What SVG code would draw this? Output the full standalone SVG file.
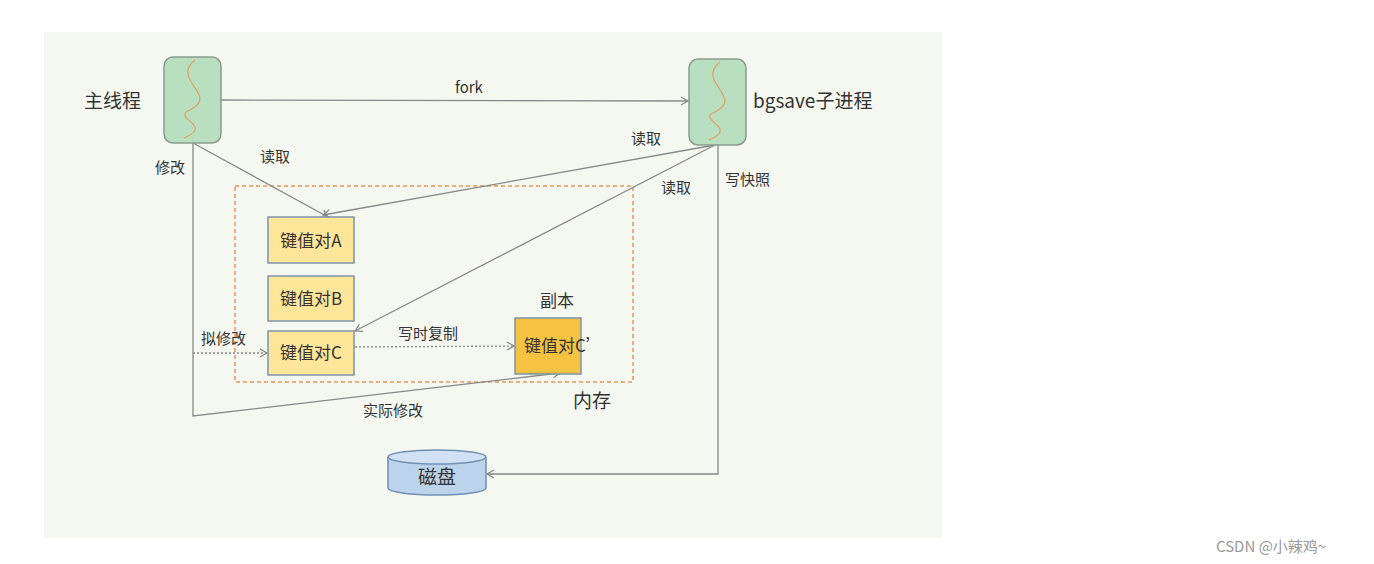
<svg xmlns="http://www.w3.org/2000/svg" width="1374" height="564" viewBox="0 0 1374 564">
<style>
text{font-family:"Noto Sans CJK SC","Liberation Sans",sans-serif;fill:#333}
.l{fill:none;stroke:#888;stroke-width:1.3}
.kv{fill:#fde69a;stroke:#7e92a8;stroke-width:1.5}
.th{fill:#b8dfc0;stroke:#8a9a8e;stroke-width:1.5}
.w{fill:none;stroke:#e0a060;stroke-width:1.2}
</style>
<defs>
<marker id="a" markerWidth="10" markerHeight="10" refX="8" refY="5" orient="auto" markerUnits="userSpaceOnUse"><path d="M1,1 L8,5 L1,9" fill="none" stroke="#888" stroke-width="1.3"/></marker>
</defs>
<rect width="1374" height="564" fill="#fff"/>
<rect x="44" y="32" width="898" height="506" fill="#f5f8f0"/>
<rect x="235" y="186" width="398" height="196" fill="none" stroke="#e8925a" stroke-width="1.5" stroke-dasharray="4,3"/>
<g id="connectors">
<line class="l" x1="221" y1="100" x2="688" y2="101" marker-end="url(#a)"/>
<line class="l" x1="193" y1="143" x2="328" y2="217" marker-end="url(#a)"/>
<polyline class="l" points="193,143 193,416 560,373" marker-end="url(#a)"/>
<line class="l" x1="193" y1="353" x2="267" y2="353" stroke-dasharray="2,2" marker-end="url(#a)"/>
<line class="l" x1="715" y1="145" x2="323" y2="215" marker-end="url(#a)"/>
<line class="l" x1="715" y1="145" x2="355" y2="331" marker-end="url(#a)"/>
<polyline class="l" points="718,145 718,474 487,474" marker-end="url(#a)"/>
<line class="l" x1="355" y1="347" x2="514" y2="346" stroke-dasharray="2,2" marker-end="url(#a)"/>
</g>
<g id="main"><rect class="th" x="164" y="57" width="57" height="86" rx="9"/><path class="w" d="M195,60 C170,80 220,95 190,110 C170,118 215,125 184,138"/><text x="84" y="108" font-size="19">主线程</text></g>
<g id="bgsave"><rect class="th" x="689" y="59" width="57" height="86" rx="9"/><path class="w" d="M720,62 C695,82 745,97 715,112 C695,120 740,127 709,140"/><text x="753" y="108" font-size="19">bgsave子进程</text></g>
<g id="kvA"><rect class="kv" x="268" y="217" width="86" height="46"/><text x="311" y="247" font-size="17" text-anchor="middle">键值对A</text></g>
<g id="kvB"><rect class="kv" x="268" y="276" width="86" height="45"/><text x="311" y="305" font-size="17" text-anchor="middle">键值对B</text></g>
<g id="kvC"><rect class="kv" x="268" y="331" width="86" height="44"/><text x="311" y="359" font-size="17" text-anchor="middle">键值对C</text></g>
<g id="kvC2"><rect x="515" y="318" width="66" height="56" fill="#f5c242" stroke="#7e92a8" stroke-width="1.5"/><text x="524" y="352" font-size="17">键值对C’</text></g>
<g id="disk"><path d="M388,457 V488 A49,7 0 0 0 486,488 V457" fill="#bcd3ec" stroke="#6f8fb5" stroke-width="1.5"/><ellipse cx="437" cy="457" rx="49" ry="7" fill="#d1e1f3" stroke="#6f8fb5" stroke-width="1.5"/><text x="437" y="484" font-size="19" text-anchor="middle">磁盘</text></g>
<g font-size="15">
<text x="455" y="93">fork</text>
<text x="155" y="173">修改</text>
<text x="260" y="162">读取</text>
<text x="631" y="144">读取</text>
<text x="661" y="193">读取</text>
<text x="725" y="185">写快照</text>
<text x="201" y="344">拟修改</text>
<text x="398" y="339">写时复制</text>
<text x="363" y="416">实际修改</text>
</g>
<text x="540" y="307" font-size="17">副本</text>
<text x="573" y="408" font-size="19">内存</text>
<text x="1216" y="552" font-size="15" fill="#999" style="fill:#999">CSDN @小辣鸡~</text>
</svg>
